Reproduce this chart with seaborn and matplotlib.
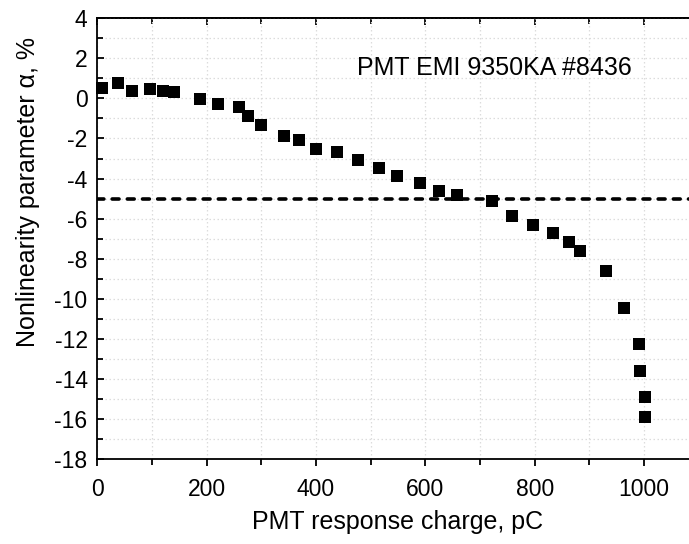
import matplotlib
matplotlib.use("Agg")
import matplotlib.pyplot as plt
import seaborn as sns
import pandas as pd
from matplotlib.ticker import MultipleLocator

charge_pC = [8, 38, 63, 97, 120, 140, 188, 220, 259, 276, 299, 341, 368, 400, 439,
             476, 515, 548, 590, 624, 658, 721, 758, 797, 833, 863, 882, 930, 963,
             990, 992, 1002, 1001]
alpha_pct = [0.53, 0.75, 0.36, 0.46, 0.38, 0.33, -0.05, -0.3, -0.43, -0.87, -1.31,
             -1.86, -2.09, -2.5, -2.65, -3.05, -3.45, -3.87, -4.2, -4.63, -4.83,
             -5.12, -5.85, -6.31, -6.72, -7.18, -7.61, -8.59, -10.45, -12.24, -13.6,
             -14.91, -15.89]
threshold = -5
annotation = "PMT EMI 9350KA #8436"
xlabel = "PMT response charge, pC"
ylabel = "Nonlinearity parameter α, %"

df = pd.DataFrame({"charge": charge_pC, "alpha": alpha_pct})

sns.set_theme(style="white")
plt.rcParams["font.family"] = ["Liberation Sans", "DejaVu Sans"]
plt.rcParams["axes.unicode_minus"] = False
plt.rcParams["text.color"] = "black"
plt.rcParams["xtick.color"] = "black"
plt.rcParams["ytick.color"] = "black"

fig = plt.figure(figsize=(6.89, 5.44), dpi=100)
ax = fig.add_axes([97.3 / 689, 1 - 459 / 544, 1 - 97.3 / 689, (459 - 18.3) / 544])

ax.set_xlim(0, 1082)
ax.set_ylim(-18, 4)
ax.xaxis.set_major_locator(MultipleLocator(200))
ax.xaxis.set_minor_locator(MultipleLocator(100))
ax.yaxis.set_major_locator(MultipleLocator(2))
ax.yaxis.set_minor_locator(MultipleLocator(1))

ax.grid(True, which="both", color="#dcdcdc", linestyle=(0, (1.2, 2.0)), linewidth=0.9)
ax.set_axisbelow(True)

ax.axhline(threshold, color="black", linewidth=2.6, linestyle=(0, (1.9, 2.3)),
           dash_capstyle="round", zorder=2)

sns.scatterplot(data=df, x="charge", y="alpha", marker="s", s=72, color="black",
                linewidth=0, ax=ax, zorder=3, clip_on=False)

for side in ["left", "bottom", "top"]:
    ax.spines[side].set_visible(True)
    ax.spines[side].set_color("black")
    ax.spines[side].set_linewidth(1.3)
ax.spines["right"].set_visible(False)

ax.tick_params(axis="x", which="major", direction="out", length=5, width=1.3,
               labelsize=16.5, pad=9, colors="black", bottom=True, top=False)
ax.tick_params(axis="x", which="minor", direction="out", length=4, width=1.3,
               bottom=True, top=False)
ax.tick_params(axis="y", which="major", direction="in", length=5, width=1.3,
               labelsize=16.5, pad=7, colors="black", left=True)
ax.tick_params(axis="y", which="minor", direction="in", length=4, width=1.3, left=True)

ax.set_xlabel("")
ax.set_ylabel("")

# top ticks point inward
top = ax.secondary_xaxis("top")
top.xaxis.set_major_locator(MultipleLocator(200))
top.xaxis.set_minor_locator(MultipleLocator(100))
top.tick_params(which="major", direction="in", length=5, width=1.3, labeltop=False)
top.tick_params(which="minor", direction="in", length=4, width=1.3)
top.spines["top"].set_linewidth(1.3)
top.spines["top"].set_color("black")

ax.text(475, 1.52, annotation, fontsize=18, va="center", ha="left", color="black")

fig.text(398 / 689, 1 - 522 / 544, xlabel, fontsize=18, ha="center", va="center")
fig.text(28 / 689, 1 - 192 / 544, ylabel, fontsize=18, ha="center", va="center",
         rotation=90)

fig.savefig("out.png", dpi=100)
